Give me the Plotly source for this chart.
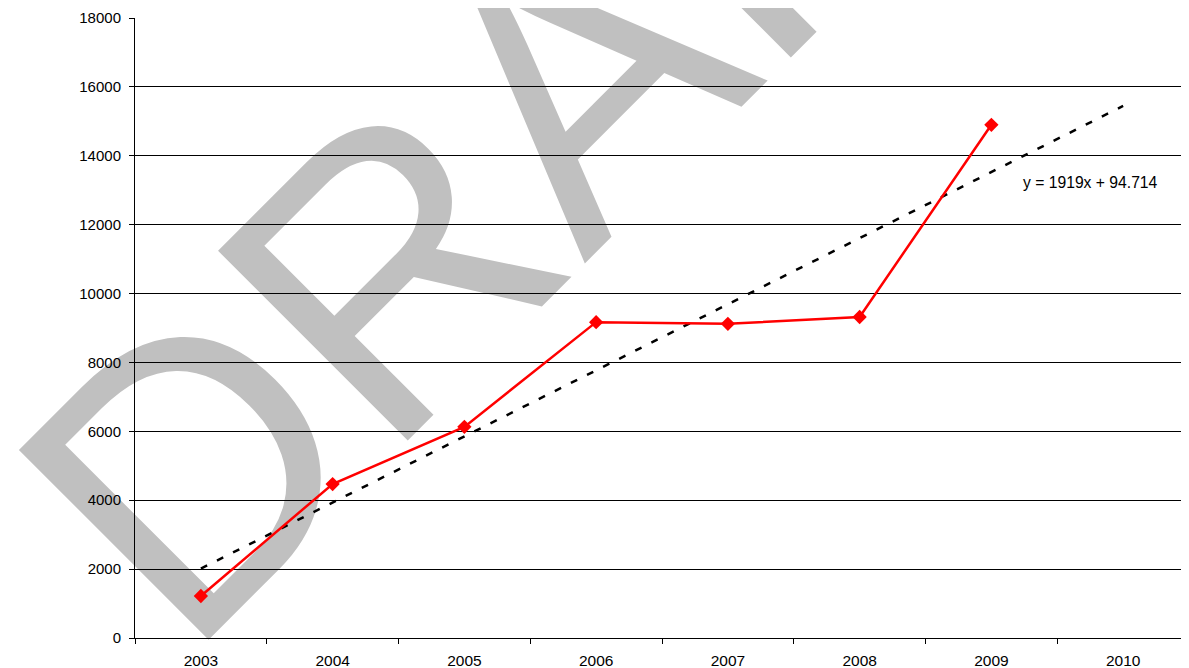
import plotly.graph_objects as go

# ---- data ----
years = ["2003", "2004", "2005", "2006", "2007", "2008", "2009", "2010"]
value_years = ["2003", "2004", "2005", "2006", "2007", "2008", "2009"]
values = [1220, 4470, 6130, 9170, 9120, 9320, 14900]
trend_years = ["2003", "2010"]
trend_values = [2014, 15447]
y_ticks = [0, 2000, 4000, 6000, 8000, 10000, 12000, 14000, 16000, 18000]
equation_label = "y = 1919x + 94.714"
watermark_text = "DRAFT"

FONT = "Liberation Sans, Arial, sans-serif"

fig = go.Figure()

fig.add_trace(go.Scatter(
    x=trend_years, y=trend_values, mode="lines",
    line=dict(color="black", width=2.5, dash="7px,11px"),
    hoverinfo="skip", showlegend=False,
))
fig.add_trace(go.Scatter(
    x=value_years, y=values, mode="lines+markers",
    line=dict(color="#FF0000", width=2.5),
    marker=dict(symbol="diamond", size=11, color="#FF0000"),
    showlegend=False,
))

# watermark, drawn beneath the grid
fig.add_shape(
    type="rect", xref="paper", yref="paper",
    x0=0.3680, x1=0.3700, y0=0.8972, y1=0.8992,
    line=dict(width=0), fillcolor="rgba(0,0,0,0)", layer="below",
    label=dict(text=watermark_text, textangle=-45, textposition="middle center",
               font=dict(family="Liberation Sans, Arial", size=390, color="#c0c0c0")),
)

fig.add_annotation(
    x=6.225, y=13210, xref="x", yref="y", text=equation_label,
    showarrow=False, xanchor="left", yanchor="middle",
    font=dict(family=FONT, size=15.7, color="black"),
)

fig.update_layout(
    width=1181, height=660, autosize=False,
    margin=dict(l=127, r=0, t=10, b=30),
    paper_bgcolor="white", plot_bgcolor="rgba(0,0,0,0)",
    showlegend=False,
    font=dict(family=FONT, size=15, color="black"),
)
fig.update_xaxes(
    type="category", categoryorder="array", categoryarray=years,
    range=[-0.5, 7.5], tickson="boundaries", ticks="outside", ticklen=5,
    tickcolor="black", showline=True, linecolor="black", linewidth=1,
    showgrid=False, ticklabelstandoff=8, tickfont=dict(size=15.5),
)
fig.update_yaxes(
    range=[0, 18000], tickvals=y_ticks, tickformat="d", ticks="outside", ticklen=5,
    tickcolor="black", showline=True, linecolor="black", linewidth=1,
    showgrid=True, gridcolor="black", gridwidth=1, zeroline=False,
    ticklabelstandoff=5, tickfont=dict(size=15),
)

fig.write_html("out.html")
